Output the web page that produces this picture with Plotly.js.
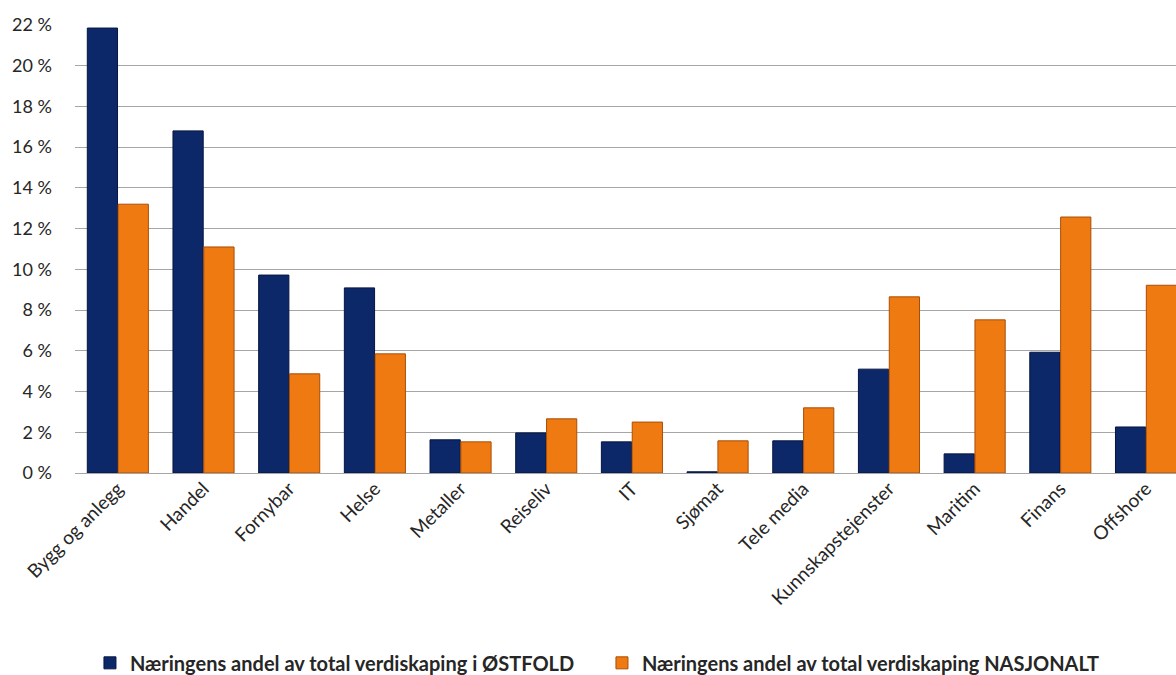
<!DOCTYPE html>
<html>
<head>
<meta charset="utf-8">
<script src="https://cdn.plot.ly/plotly-3.0.1.min.js"></script>
<style>html,body{margin:0;padding:0;background:#fff;}#chart{width:1176px;height:675px;}</style>
</head>
<body>
<div id="chart"></div>
<script>
const categories = ["Bygg og anlegg","Handel","Fornybar","Helse","Metaller","Reiseliv","IT","Sjømat","Tele media","Kunnskapstejenster","Maritim","Finans","Offshore"];
const ostfold = [21.85, 16.8, 9.72, 9.09, 1.63, 1.97, 1.53, 0.06, 1.58, 5.1, 0.94, 5.93, 2.26];
const nasjonalt = [13.2, 11.1, 4.87, 5.85, 1.53, 2.66, 2.5, 1.58, 3.2, 8.65, 7.52, 12.57, 9.22];
const seriesNames = ["Næringens andel av total verdiskaping i ØSTFOLD","Næringens andel av total verdiskaping NASJONALT"];
const yTicks = [0,2,4,6,8,10,12,14,16,18,20,22];

const fontFam = "Lato, 'Open Sans', sans-serif";
const traces = [
  {type:'bar', x:categories, y:ostfold, name:seriesNames[0],
   marker:{color:'#0d2868', line:{color:'#061540', width:1}}},
  {type:'bar', x:categories, y:nasjonalt, name:seriesNames[1],
   marker:{color:'#f07a12', line:{color:'#a84e05', width:1}}}
];
const layout = {
  width:1176, height:675,
  margin:{l:75, r:0, t:25, b:202},
  paper_bgcolor:'#fff', plot_bgcolor:'#fff',
  barmode:'group', bargap:0.28, bargroupgap:0.02,
  showlegend:true,
  legend:{orientation:'h', xref:'container', yref:'container', x:0.0765, xanchor:'left', y:0.018, yanchor:'middle',
    font:{family:fontFam, size:20, color:'#262626', weight:'bold'}, itemwidth:30, entrywidth:467, traceorder:'normal'},
  xaxis:{type:'category', range:[-0.5, 12.35], tickangle:-45, showgrid:false, automargin:false,
    tickfont:{family:fontFam, size:19, color:'#262626'}, ticks:'', showline:false},
  yaxis:{range:[0,22], tickvals:yTicks, ticktext:yTicks.map(v=>v+' %'), showgrid:true, gridcolor:'#a6a6a6', gridwidth:1,
    zeroline:true, zerolinecolor:'#a6a6a6', zerolinewidth:1, automargin:false,
    tickfont:{family:fontFam, size:18, color:'#262626'}, ticklabelstandoff:22, fixedrange:true}
};
Plotly.newPlot('chart', traces, layout, {displayModeBar:false, staticPlot:true});
</script>
</body>
</html>
